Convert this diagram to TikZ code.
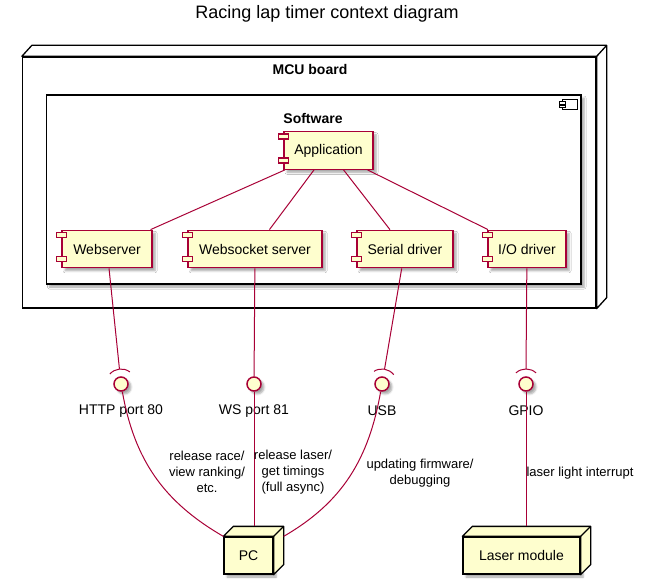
\documentclass[tikz,border=0pt]{standalone}
\usepackage{fontspec}
\setmainfont{Liberation Sans}
\usetikzlibrary{shadows.blur}
\definecolor{umlfill}{HTML}{FEFECE}
\definecolor{umlred}{HTML}{A80036}
\tikzset{
  shadowed/.style={blur shadow={shadow xshift=3pt, shadow yshift=-3pt, shadow blur radius=2pt, shadow blur steps=5, shadow opacity=35}},
  comp/.style={draw=umlred, fill=umlfill, line width=1.3pt, minimum height=37.5pt, inner sep=0pt, font=\fontsize{14}{16}\selectfont, shadowed},
  compicon/.style={draw=umlred, fill=umlfill, line width=1.3pt},
  link/.style={draw=umlred, line width=1pt},
  iface/.style={circle, draw=umlred, fill=umlfill, line width=1.5pt, minimum size=14pt, inner sep=0pt, shadowed},
  nodebox/.style={draw=black, fill=umlfill, line width=1.3pt, minimum height=37pt, inner sep=0pt, font=\fontsize{14}{16}\selectfont, shadowed},
  face/.style={draw=black, line width=1.3pt, line join=round},
  lbl/.style={font=\fontsize{14}{16}\selectfont, inner sep=0pt},
  elbl/.style={font=\fontsize{13}{16}\selectfont, align=center, inner sep=0pt},
  boldlbl/.style={font=\bfseries\fontsize{14}{16}\selectfont, inner sep=0pt},
}
\begin{document}
\begin{tikzpicture}[x=1pt, y=1pt]
\useasboundingbox (0,0) rectangle (645,-585);

% title
\node[font=\fontsize{18}{20}\selectfont, inner sep=0pt] (title) at (327,-14) {Racing lap timer context diagram};

% MCU board
\node[draw=black, fill=white, line width=1.3pt, minimum width=573.5pt, minimum height=251pt, inner sep=0pt] (mcu) at (309.25,-182.5) {};
\draw[face, fill=white] (mcu.north west) -- ++(10,11) -- ([shift={(10pt,11pt)}]mcu.north east) -- ([shift={(10pt,11pt)}]mcu.south east) -- (mcu.south east) -- (mcu.north east) -- cycle;
\draw[face] (mcu.north east) -- ++(10,11);
\node[boldlbl] (mcutitle) at (310,-69) {MCU board};

% Software component
\node[draw=black, fill=white, line width=1.3pt, minimum width=534.5pt, minimum height=189pt, inner sep=0pt, shadowed] (sw) at (313.75,-189.5) {};
\node[boldlbl] (swtitle) at (313,-118) {Software};
\draw[black, line width=1pt, fill=white] (562,-100) rectangle (577,-110);
\draw[black, line width=1pt, fill=white] (559,-102) rectangle (565,-104.5);
\draw[black, line width=1pt, fill=white] (559,-105.5) rectangle (565,-108);

% components
\node[comp, minimum width=89pt] (app) at (328.5,-150.5) {Application};
\node[comp, minimum width=90pt] (web) at (107,-249) {Webserver};
\node[comp, minimum width=134pt] (wss) at (255,-249) {Websocket server};
\node[comp, minimum width=96pt] (ser) at (405,-249) {Serial driver};
\node[comp, minimum width=78pt] (io) at (527,-249) {I/O driver};
\foreach \n in {app,web,wss,ser,io} {
  \draw[compicon] ([shift={(-5pt,-3pt)}]\n.north west) rectangle ++(10,-5);
  \draw[compicon] ([shift={(-5pt,-27pt)}]\n.north west) rectangle ++(10,-5);
}
\foreach \n in {web,wss,ser,io} \draw[link] (app) -- (\n);

% interfaces
\node[iface] (http) at (121,-384) {};
\node[iface] (ws) at (254,-384) {};
\node[iface] (usb) at (382,-384) {};
\node[iface] (gpio) at (526,-384) {};
\node[lbl] (httpl) at (121,-411) {HTTP port 80};
\node[lbl] (wsl) at (254,-411) {WS port 81};
\node[lbl] (usbl) at (382,-411) {USB};
\node[lbl] (gpiol) at (526,-411) {GPIO};

\coordinate (httpa) at ([shift={(95.9:15pt)}]http.center);
\coordinate (usba) at ([shift={(80.3:15pt)}]usb.center);
\coordinate (gpioa) at ([shift={(90:15pt)}]gpio.center);
\draw[link] ([shift={(53.9:15pt)}]http.center) arc[start angle=53.9, end angle=137.9, radius=15pt];
\draw[link] ([shift={(38.3:15pt)}]usb.center) arc[start angle=38.3, end angle=122.3, radius=15pt];
\draw[link] ([shift={(48:15pt)}]gpio.center) arc[start angle=48, end angle=132, radius=15pt];

\draw[link] (web) -- (httpa);
\draw[link] (wss) -- (ws);
\draw[link] (ser) -- (usba);
\draw[link] (io) -- (gpioa);

% external nodes
\node[nodebox, minimum width=49pt] (pc) at (248.5,-555.5) {PC};
\node[nodebox, minimum width=117pt] (laser) at (521.5,-555.5) {Laser module};
\foreach \n in {pc,laser} {
  \draw[face, fill=umlfill] (\n.north west) -- ++(10,10) -- ([shift={(10pt,10pt)}]\n.north east) -- ([shift={(10pt,10pt)}]\n.south east) -- (\n.south east) -- (\n.north east) -- cycle;
  \draw[face] (\n.north east) -- ++(10,10);
}
\coordinate (pctop) at ([shift={(10pt,10pt)}]pc.north west);
\coordinate (pcside) at ([xshift=10pt]pc.north east);
\coordinate (lasertop) at ([shift={(10pt,10pt)}]laser.north west);

\draw[link] (http) to[out=-80, in=150] (pc.north west);
\draw[link] (ws) -- (ws |- pctop);
\draw[link] (usb) to[out=-100, in=30] (pcside);
\draw[link] (gpio) -- (gpio |- lasertop);

% connector labels
\node[elbl] (e1) at (207,-472) {release race/\\view ranking/\\etc.};
\node[elbl] (e2) at (293,-472) {release laser/\\get timings\\(full async)};
\node[elbl] (e3) at (420,-473.5) {updating firmware/\\debugging};
\node[elbl] (e4) at (580,-473) {laser light interrupt};
\end{tikzpicture}
\end{document}
